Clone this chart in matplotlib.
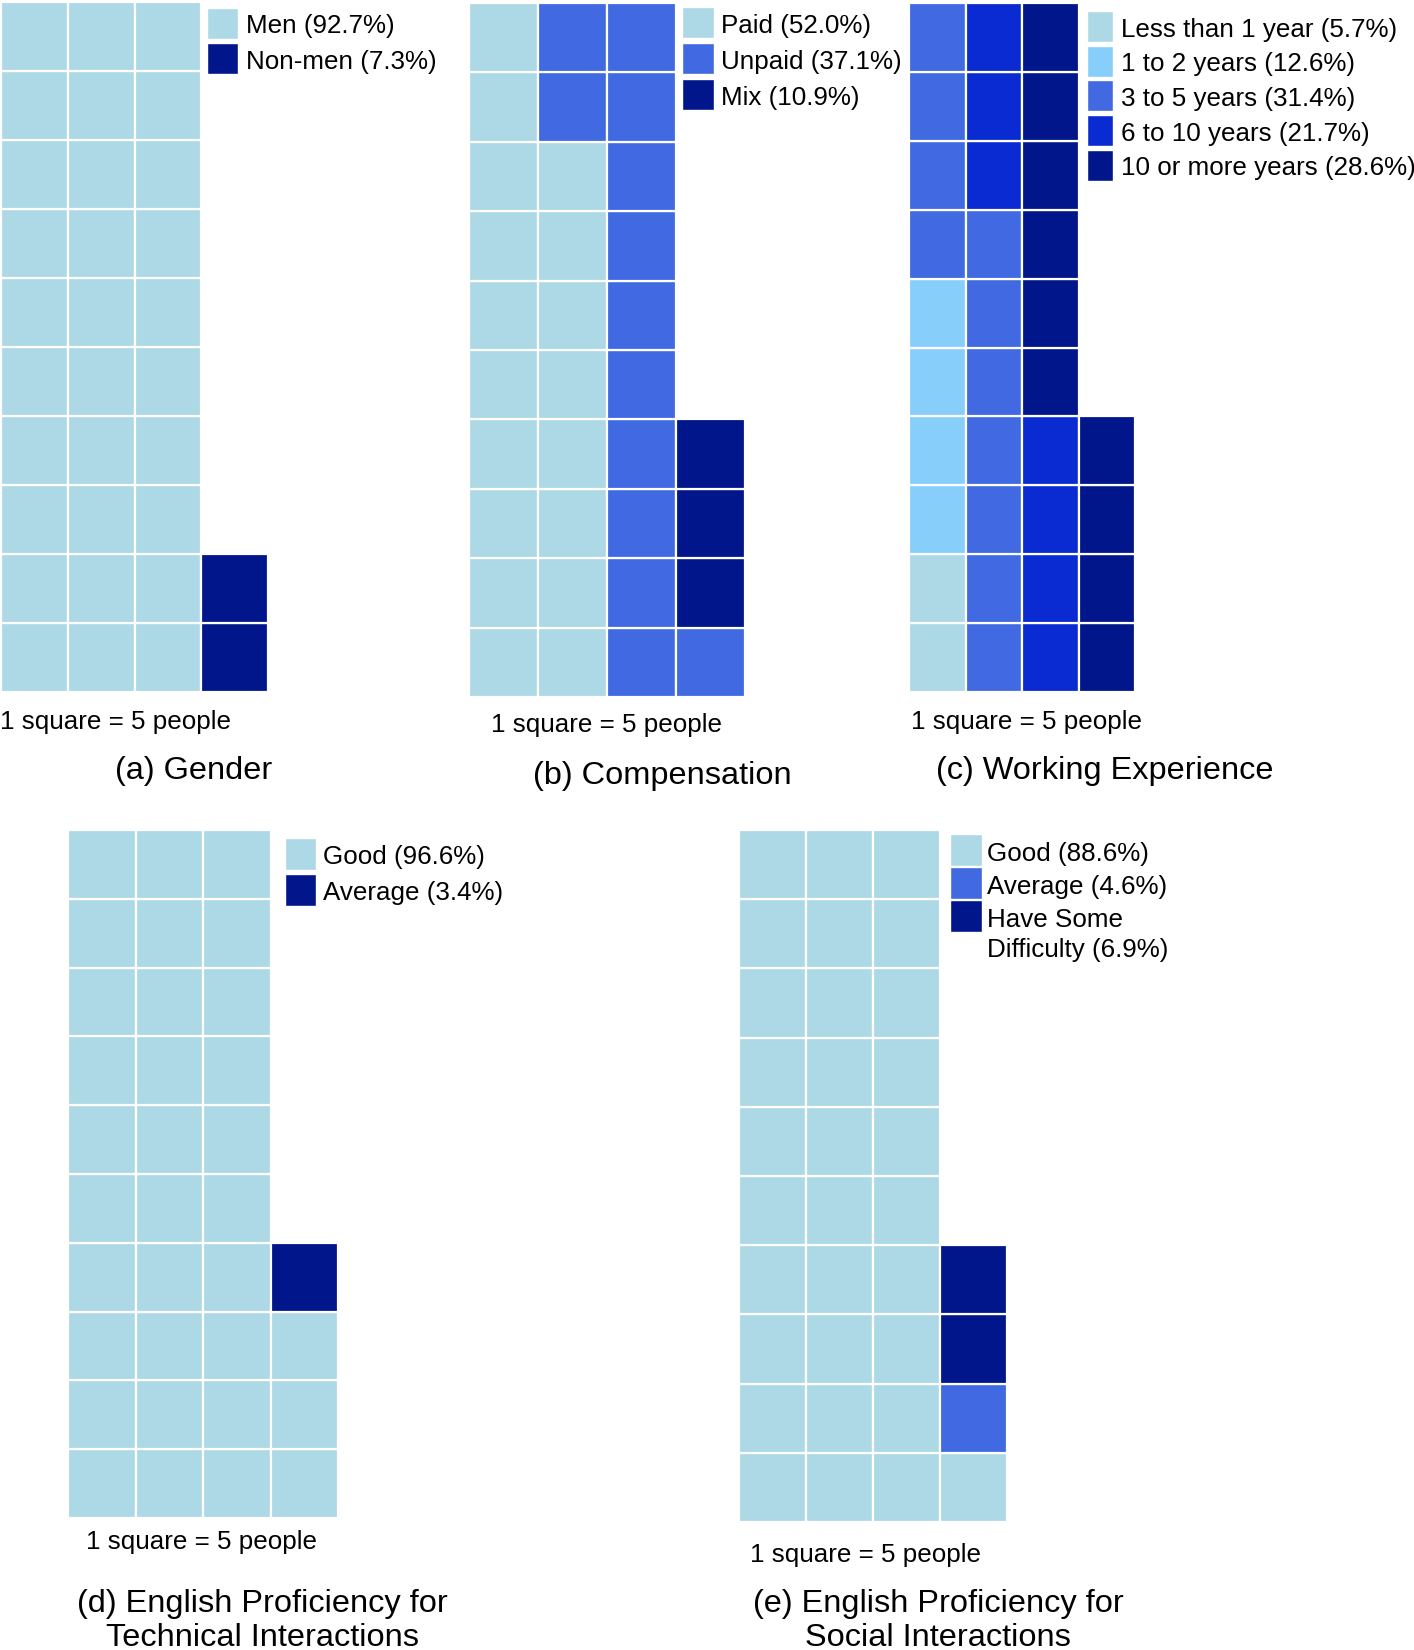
import matplotlib
matplotlib.use("Agg")
import matplotlib.pyplot as plt
from matplotlib.patches import Rectangle

plt.rcParams["font.family"] = ["Liberation Sans", "DejaVu Sans"]

# ------- colours -------
LIGHT = "#ADD8E6"
SKY = "#87CEFA"
ROYAL = "#4169E1"
BRIGHT = "#0A2AD2"
NAVY = "#00168A"

# ------- data: number of squares per category (1 square = 5 people) -------
gender_labels = ["Men (92.7%)", "Non-men (7.3%)"]
gender_counts = [30, 2]
gender_colors = [LIGHT, NAVY]

comp_labels = ["Paid (52.0%)", "Unpaid (37.1%)", "Mix (10.9%)"]
comp_counts = [18, 13, 3]
comp_colors = [LIGHT, ROYAL, NAVY]

exp_labels = ["Less than 1 year (5.7%)", "1 to 2 years (12.6%)",
              "3 to 5 years (31.4%)", "6 to 10 years (21.7%)",
              "10 or more years (28.6%)"]
exp_counts = [2, 4, 11, 7, 10]
exp_colors = [LIGHT, SKY, ROYAL, BRIGHT, NAVY]

tech_labels = ["Good (96.6%)", "Average (3.4%)"]
tech_counts = [33, 1]
tech_colors = [LIGHT, NAVY]

social_labels = ["Good (88.6%)", "Average (4.6%)", "Have Some\nDifficulty (6.9%)"]
social_counts = [31, 1, 2]
social_colors = [LIGHT, ROYAL, NAVY]

captions = ["(a) Gender", "(b) Compensation", "(c) Working Experience",
            "(d) English Proficiency for\nTechnical Interactions",
            "(e) English Proficiency for\nSocial Interactions"]
NOTE = "1 square = 5 people"
NROWS, NCOLS = 10, 4
FS_TXT = 18.7
FS_CAP = 23.4

W, H = 1414, 1650
fig = plt.figure(figsize=(W / 100, H / 100), dpi=100)


def fx(x):
    return x / W


def fy(y):
    return 1 - y / H


def waffle(box, counts, colors):
    x0, y0, x1, y1 = box
    ax = fig.add_axes([fx(x0), fy(y1), fx(x1 - x0), (y1 - y0) / H])
    i = 0
    for n, c in zip(counts, colors):
        for _ in range(n):
            col, row = divmod(i, NROWS)
            ax.add_patch(Rectangle((col, row), 1, 1, facecolor=c,
                                   edgecolor="white", linewidth=1.6))
            i += 1
    ax.set_xlim(0, NCOLS)
    ax.set_ylim(0, NROWS)
    ax.axis("off")
    return ax


def legend(x_sq, w_sq, y_start, step, h_sq, x_txt, labels, colors, dy=3):
    for k, (lab, c) in enumerate(zip(labels, colors)):
        y = y_start + k * step
        fig.add_artist(Rectangle((fx(x_sq), fy(y + h_sq)), fx(w_sq), h_sq / H,
                                 transform=fig.transFigure, facecolor=c,
                                 edgecolor="white", linewidth=1))
        for j, ln in enumerate(lab.split("\n")):
            fig.text(fx(x_txt), fy(y + h_sq / 2 + dy + j * 30), ln,
                     fontsize=FS_TXT, va="center", ha="left")


# panel grids
waffle((1, 2, 268, 692), gender_counts, gender_colors)
waffle((469, 3, 745, 697), comp_counts, comp_colors)
waffle((909, 3, 1135, 692), exp_counts, exp_colors)
waffle((68, 830, 338, 1518), tech_counts, tech_colors)
waffle((739, 830, 1007, 1522), social_counts, social_colors)

# legends
legend(207, 31, 8, 35, 31, 246, gender_labels, gender_colors)
legend(682, 32, 7, 36, 31, 721, comp_labels, comp_colors)
legend(1087, 26, 11, 34.7, 31, 1121, exp_labels, exp_colors)
legend(285, 31, 838, 36, 32, 323, tech_labels, tech_colors)
legend(950, 32, 834, 33, 32, 987, social_labels, social_colors, dy=4)

# "1 square = 5 people" notes
for x, y in [(0, 722), (491, 725), (911, 722), (86, 1542), (750, 1555)]:
    fig.text(fx(x), fy(y), NOTE, fontsize=FS_TXT, ha="left", va="center")

# captions
cap_pos = [(194, 771), (662, 776), (1105, 771), (262, 1621), (938, 1621)]
for (x, y), cap in zip(cap_pos, captions):
    fig.text(fx(x), fy(y), cap, fontsize=FS_CAP, ha="center", va="center",
             linespacing=1.15)

fig.savefig("out.png", dpi=100)
plt.close(fig)
